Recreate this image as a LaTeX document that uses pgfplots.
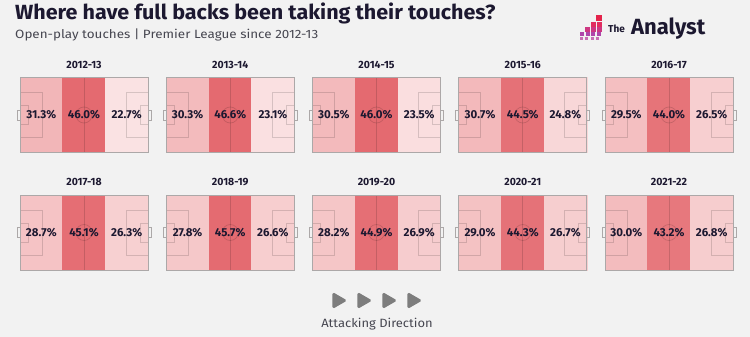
\documentclass[border=0pt]{standalone}
\usepackage{fontspec}
\setmainfont{Fira Sans}
\usepackage{pgfplots}
\pgfplotsset{compat=1.18}
\usepgfplotslibrary{patchplots}
\definecolor{bg}{RGB}{242,242,242}
\definecolor{ink}{RGB}{28,24,48}
\definecolor{subink}{RGB}{70,70,80}
\definecolor{border}{RGB}{172,168,168}
\definecolor{arrowgray}{RGB}{125,125,125}

\newcommand\pitch[6]{%
 \pgfmathsetmacro\xa{#1}\pgfmathsetmacro\xb{#1+42.667}\pgfmathsetmacro\xc{#1+85.333}\pgfmathsetmacro\xd{#1+128}%
 \pgfmathsetmacro\xm{#1+64}\pgfmathsetmacro\xpl{#1+22}\pgfmathsetmacro\xsl{#1+8}\pgfmathsetmacro\xpr{#1+106}\pgfmathsetmacro\xsr{#1+120}%
 \pgfmathsetmacro\xgl{#1-3}\pgfmathsetmacro\xgr{#1+131}\pgfmathsetmacro\xl{#1+21.333}\pgfmathsetmacro\xr{#1+106.667}%
 \pgfmathsetmacro\ya{#2}\pgfmathsetmacro\yb{#2+75}\pgfmathsetmacro\ym{#2+37.5}\pgfmathsetmacro\ypa{#2+15}\pgfmathsetmacro\ypb{#2+60}%
 \pgfmathsetmacro\ysa{#2+28}\pgfmathsetmacro\ysb{#2+47}\pgfmathsetmacro\yga{#2+32.5}\pgfmathsetmacro\ygb{#2+42.5}\pgfmathsetmacro\yt{#2-13}%
 \addplot[patch, patch type=rectangle, shader=flat mean, point meta=explicit, forget plot] coordinates {
  (\xa,\ya) [#4] (\xb,\ya) [#4] (\xb,\yb) [#4] (\xa,\yb) [#4]
  (\xb,\ya) [#5] (\xc,\ya) [#5] (\xc,\yb) [#5] (\xb,\yb) [#5]
  (\xc,\ya) [#6] (\xd,\ya) [#6] (\xd,\yb) [#6] (\xc,\yb) [#6]
 };
 \addplot[mk] coordinates {(\xm,\ya) (\xm,\yb)};
 \addplot[mk] coordinates {(\xa,\ypa) (\xpl,\ypa) (\xpl,\ypb) (\xa,\ypb)};
 \addplot[mk] coordinates {(\xa,\ysa) (\xsl,\ysa) (\xsl,\ysb) (\xa,\ysb)};
 \addplot[mk] coordinates {(\xd,\ypa) (\xpr,\ypa) (\xpr,\ypb) (\xd,\ypb)};
 \addplot[mk] coordinates {(\xd,\ysa) (\xsr,\ysa) (\xsr,\ysb) (\xd,\ysb)};
 \addplot[mk, only marks, mark=o, mark size=8pt, mark options={draw=black, draw opacity=0.14, line width=0.7pt}] coordinates {(\xm,\ym)};
 \addplot[bd] coordinates {(\xa,\yga) (\xgl,\yga) (\xgl,\ygb) (\xa,\ygb)};
 \addplot[bd] coordinates {(\xd,\yga) (\xgr,\yga) (\xgr,\ygb) (\xd,\ygb)};
 \addplot[bd] coordinates {(\xa,\ya) (\xd,\ya) (\xd,\yb) (\xa,\yb) (\xa,\ya)};
 \addplot[lbl, nodes near coords={\pgfmathprintnumber[fixed,precision=1,fixed zerofill,assume math mode=true]{\pgfplotspointmeta}\%},
   point meta=explicit, every node near coord/.append style={font=\fontsize{11.5}{11.5}\selectfont\bfseries}]
   coordinates {(\xl,\ym) [#4] (\xm,\ym) [#5] (\xr,\ym) [#6]};
 \addplot[lbl, nodes near coords, point meta=explicit symbolic,
   every node near coord/.append style={font=\fontsize{10.5}{10.5}\selectfont\bfseries}]
   coordinates {(\xm,\yt) [#3]};
}

\begin{document}
\begin{tikzpicture}
\fill[bg] (0,0) rectangle (750pt,337pt);
\begin{axis}[
  at={(0,0)}, anchor=south west,
  width=750pt, height=337pt, scale only axis,
  xmin=0, xmax=750, ymin=0, ymax=337, y dir=reverse,
  hide axis, clip=false,
  colormap={pitch}{rgb255(0)=(251,230,230) rgb255(1)=(228,106,112)},
  point meta min=22, point meta max=46,
  mk/.style={draw=black, draw opacity=0.14, line width=0.7pt, mark=none, forget plot},
  bd/.style={draw=border, line width=0.9pt, mark=none, forget plot},
  lbl/.style={draw=none, mark=none, only marks, forget plot,
     every node near coord/.style={anchor=center, text=ink, inner sep=0pt}},
]
\pitch{20}{77.5}{2012-13}{31.3}{46.0}{22.7}
\pitch{166.25}{77.5}{2013-14}{30.3}{46.6}{23.1}
\pitch{312.5}{77.5}{2014-15}{30.5}{46.0}{23.5}
\pitch{458.75}{77.5}{2015-16}{30.7}{44.5}{24.8}
\pitch{605}{77.5}{2016-17}{29.5}{44.0}{26.5}
\pitch{20}{195}{2017-18}{28.7}{45.1}{26.3}
\pitch{166.25}{195}{2018-19}{27.8}{45.7}{26.6}
\pitch{312.5}{195}{2019-20}{28.2}{44.9}{26.9}
\pitch{458.75}{195}{2020-21}{29.0}{44.3}{26.7}
\pitch{605}{195}{2021-22}{30.0}{43.2}{26.8}

% attacking direction arrows
\addplot[fill=arrowgray, draw=arrowgray, line width=1.2pt, rounded corners=1.2pt, forget plot] coordinates {(333,293) (346,300.5) (333,308)} -- cycle;
\addplot[fill=arrowgray, draw=arrowgray, line width=1.2pt, rounded corners=1.2pt, forget plot] coordinates {(358,293) (371,300.5) (358,308)} -- cycle;
\addplot[fill=arrowgray, draw=arrowgray, line width=1.2pt, rounded corners=1.2pt, forget plot] coordinates {(383,293) (396,300.5) (383,308)} -- cycle;
\addplot[fill=arrowgray, draw=arrowgray, line width=1.2pt, rounded corners=1.2pt, forget plot] coordinates {(408,293) (421,300.5) (408,308)} -- cycle;

% logo squares
\addplot[only marks, mark=square*, mark size=2.5pt, color={rgb,255:red,228;green,35;blue,75}, forget plot] coordinates {(599,18)};
\addplot[only marks, mark=square*, mark size=1.9pt, color={rgb,255:red,225;green,45;blue,95}, forget plot] coordinates {(599,24.5) (593,24.5)};
\addplot[only marks, mark=square*, mark size=1.8pt, color={rgb,255:red,205;green,55;blue,130}, forget plot] coordinates {(599,29.5) (593,29.5) (587,29.5)};
\addplot[only marks, mark=square*, mark size=1.5pt, color={rgb,255:red,175;green,70;blue,170}, forget plot] coordinates {(598.5,34) (593,34) (587.5,34) (582,34)};
\addplot[only marks, mark=square*, mark size=1.1pt, color={rgb,255:red,200;green,110;blue,180}, forget plot] coordinates {(597.5,38.5) (592,38.5) (586.5,38.5) (581,38.5)};

\node[anchor=base west, text=ink, inner sep=0pt, font=\fontsize{20.5}{20.5}\selectfont\bfseries] at (axis cs:15,19.5) {\scalebox{1.05}[1]{Where have full backs been taking their touches?}};
\node[anchor=base west, text=subink, inner sep=0pt, font=\fontsize{12}{12}\selectfont] at (axis cs:15,39) {\scalebox{1.12}[1]{Open-play touches | Premier League since 2012-13}};
\node[anchor=base west, text=ink, inner sep=0pt, font=\fontsize{10}{10}\selectfont\bfseries] at (axis cs:608,33) {The};
\node[anchor=base west, text=ink, inner sep=0pt, font=\fontsize{22}{22}\selectfont\bfseries] at (axis cs:631,35) {Analyst};
\node[anchor=base, text=subink, inner sep=0pt, font=\fontsize{12}{12}\selectfont] at (axis cs:377,327) {\scalebox{1.08}[1]{Attacking Direction}};
\end{axis}
\end{tikzpicture}
\end{document}
